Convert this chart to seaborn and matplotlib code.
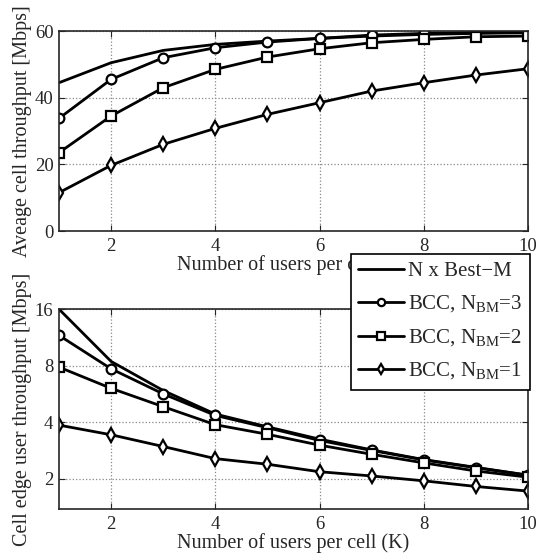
import numpy as np
import pandas as pd
import matplotlib
matplotlib.use("Agg")
import matplotlib.pyplot as plt
import seaborn as sns

sns.set_style("ticks")
plt.rcParams['font.family'] = ['Liberation Serif', 'DejaVu Serif']
plt.rcParams['mathtext.fontset'] = 'custom'
plt.rcParams['mathtext.rm'] = 'Liberation Serif'
plt.rcParams['xtick.direction'] = 'in'
plt.rcParams['ytick.direction'] = 'in'

users = [1, 2, 3, 4, 5, 6, 7, 8, 9, 10]

# average cell throughput [Mbps]
avg_best_m = [44.5, 50.5, 54.2, 56.0, 57.0, 57.8, 58.5, 59.0, 59.3, 59.5]
avg_bcc3 = [33.8, 45.5, 52.0, 55.0, 56.7, 57.8, 58.8, 59.3, 59.6, 59.7]
avg_bcc2 = [23.5, 34.5, 43.0, 48.5, 52.2, 54.7, 56.5, 57.5, 58.3, 58.5]
avg_bcc1 = [11.5, 19.7, 26.0, 30.8, 35.0, 38.5, 42.0, 44.5, 46.8, 48.7]

# cell edge user throughput [Mbps]
edge_best_m = [16.0, 8.43, 5.9, 4.42, 3.78, 3.25, 2.85, 2.53, 2.3, 2.09]
edge_bcc3 = [11.6, 7.7, 5.66, 4.35, 3.74, 3.2, 2.83, 2.52, 2.29, 2.09]
edge_bcc2 = [7.86, 6.06, 4.84, 3.88, 3.45, 3.02, 2.70, 2.43, 2.2, 2.04]
edge_bcc1 = [3.86, 3.43, 2.97, 2.56, 2.39, 2.18, 2.07, 1.95, 1.82, 1.72]

labels = ['N x Best\u2212M', 'BCC, N$_{\\mathrm{BM}}$=3',
          'BCC, N$_{\\mathrm{BM}}$=2', 'BCC, N$_{\\mathrm{BM}}$=1']
markers = [None, 'o', 's', 'd']

fig = plt.figure(figsize=(5.36, 5.60), dpi=100)
ax1 = fig.add_axes([0.110, 0.5875, 0.875, 0.357])
ax2 = fig.add_axes([0.110, 0.091, 0.875, 0.357])

fs_lab = 14.5
fs_tick = 13.5

def draw(ax, series):
    for vals, lab, m in zip(series, labels, markers):
        sns.lineplot(x=users, y=vals, ax=ax, color='k', lw=2, label=lab,
                     marker=m, markersize=7, markerfacecolor='white',
                     markeredgecolor='k', markeredgewidth=1.6)
    for s in ax.spines.values():
        s.set_linewidth(1.2)
        s.set_visible(True)
    ax.grid(True, linestyle=':', color='#888888', lw=0.9)
    ax.set_xlim(1, 10)
    ax.set_xticks([2, 4, 6, 8, 10])
    ax.tick_params(labelsize=fs_tick, top=True, right=True, length=4)
    ax.tick_params(axis='x', pad=5)
    ax.tick_params(axis='y', pad=4)
    ax.set_xlabel('Number of users per cell (K)', fontsize=fs_lab, labelpad=0)

draw(ax1, [avg_best_m, avg_bcc3, avg_bcc2, avg_bcc1])
ax1.set_ylim(0, 60)
ax1.set_yticks([0, 20, 40, 60])
ax1.set_ylabel('Aveage cell throughput [Mbps]', fontsize=fs_lab, labelpad=2)
ax1.get_legend().remove()

draw(ax2, [edge_best_m, edge_bcc3, edge_bcc2, edge_bcc1])
ax2.set_yscale('log', base=2)
ax2.set_ylim(1.38, 16)
ax2.set_yticks([2, 4, 8, 16])
ax2.set_yticklabels(['2', '4', '8', '16'])
ax2.yaxis.set_minor_locator(matplotlib.ticker.NullLocator())
ax2.set_ylabel('Cell edge user throughput [Mbps]', fontsize=fs_lab, labelpad=2)
handles, labs = ax2.get_legend_handles_labels()
ax2.get_legend().remove()
leg = fig.legend(handles, labs, loc='upper left', bbox_to_anchor=(0.655, 0.546),
                 fontsize=15, frameon=True, fancybox=False, edgecolor='k',
                 framealpha=1, handlelength=2.2, handletextpad=0.2,
                 borderpad=0.35, labelspacing=0.6, markerscale=0.75,
                 borderaxespad=0)
leg.get_frame().set_linewidth(1.2)

fig.savefig('out.png', dpi=100)
